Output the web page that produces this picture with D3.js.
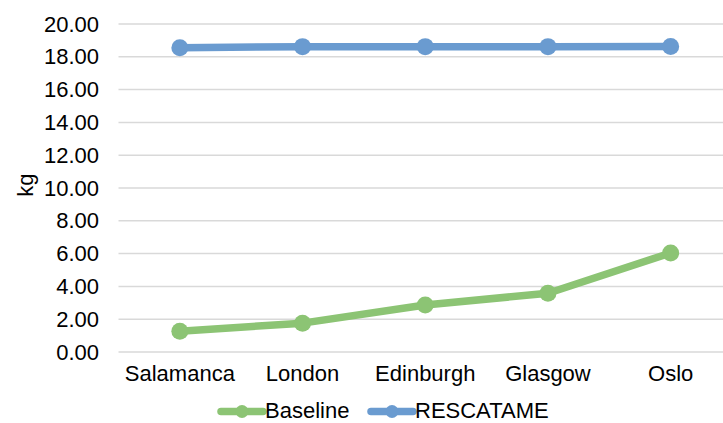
<!DOCTYPE html>
<html>
<head>
<meta charset="utf-8">
<script src="https://cdn.jsdelivr.net/npm/d3@7/dist/d3.min.js"></script>
<style>
  html, body { margin: 0; padding: 0; background: #fff; }
  svg { display: block; font-family: "Liberation Sans", Arial, Helvetica, sans-serif; }
</style>
</head>
<body>
<svg id="chart" width="723" height="423"></svg>
<script>
// Cities along the x axis
const categories = ["Salamanca", "London", "Edinburgh", "Glasgow", "Oslo"];
// Mass per city, kg
const baselineValues = [1.27, 1.76, 2.87, 3.58, 6.04];
const rescatameValues = [18.55, 18.62, 18.62, 18.62, 18.63];
// Axis ticks
const yTicks = [0, 2, 4, 6, 8, 10, 12, 14, 16, 18, 20];
const seriesNames = ["Baseline", "RESCATAME"];

const series = [
  { name: seriesNames[0], values: baselineValues, color: "#8cc474" },
  { name: seriesNames[1], values: rescatameValues, color: "#6a9bd0" }
];

const W = 723, H = 423;
const plot = { left: 118.5, right: 732, top: 24, bottom: 352 };
const FONT = 22;

const svg = d3.select("#chart");

const x = d3.scaleBand()
  .domain(categories)
  .range([plot.left, plot.right]);

const y = d3.scaleLinear()
  .domain([0, 20])
  .range([plot.bottom, plot.top]);

const cx = d => x(d) + x.bandwidth() / 2;

// Horizontal gridlines
svg.append("g")
  .selectAll("line")
  .data(yTicks)
  .join("line")
  .attr("x1", plot.left)
  .attr("x2", W)
  .attr("y1", d => y(d))
  .attr("y2", d => y(d))
  .attr("stroke", "#d9d9d9")
  .attr("stroke-width", 1.5);

// Y axis labels
const yAxis = d3.axisLeft(y)
  .tickValues(yTicks)
  .tickFormat(d3.format(".2f"))
  .tickSize(0)
  .tickPadding(0);

svg.append("g")
  .attr("transform", `translate(99,0)`)
  .call(yAxis)
  .call(g => g.select(".domain").remove())
  .selectAll("text")
  .attr("font-size", FONT)
  .attr("font-family", "Liberation Sans, Arial, sans-serif")
  .attr("fill", "#000");

// X axis labels
const xAxis = d3.axisBottom(x).tickSize(0).tickPadding(0);
svg.append("g")
  .attr("transform", `translate(0,${plot.bottom})`)
  .call(xAxis)
  .call(g => g.select(".domain").remove())
  .selectAll("text")
  .attr("dy", null)
  .attr("y", 29)
  .attr("font-size", FONT)
  .attr("font-family", "Liberation Sans, Arial, sans-serif")
  .attr("fill", "#000");

// Y axis title
svg.append("text")
  .attr("transform", `translate(33,185) rotate(-90)`)
  .attr("text-anchor", "middle")
  .attr("font-size", FONT)
  .attr("fill", "#000")
  .text("kg");

// Series lines and markers
const line = d3.line()
  .x((d, i) => cx(categories[i]))
  .y(d => y(d));

series.forEach(s => {
  const g = svg.append("g");
  g.append("path")
    .datum(s.values)
    .attr("d", line)
    .attr("fill", "none")
    .attr("stroke", s.color)
    .attr("stroke-width", 7.5)
    .attr("stroke-linejoin", "round");
  g.selectAll("circle")
    .data(s.values)
    .join("circle")
    .attr("cx", (d, i) => cx(categories[i]))
    .attr("cy", d => y(d))
    .attr("r", 8.5)
    .attr("fill", s.color);
});

// Legend
const legendItems = [
  { x0: 221, textX: 265 },
  { x0: 371, textX: 415 }
];
const legendY = 411.5;
const legend = svg.append("g");
series.forEach((s, i) => {
  const it = legendItems[i];
  legend.append("line")
    .attr("x1", it.x0).attr("x2", it.x0 + 42)
    .attr("y1", legendY).attr("y2", legendY)
    .attr("stroke", s.color)
    .attr("stroke-width", 7.5)
    .attr("stroke-linecap", "round");
  legend.append("circle")
    .attr("cx", it.x0 + 21).attr("cy", legendY)
    .attr("r", 6.5)
    .attr("fill", s.color);
  legend.append("text")
    .attr("x", it.textX)
    .attr("y", 418)
    .attr("font-size", FONT)
    .attr("fill", "#000")
    .text(s.name);
});
</script>
</body>
</html>
